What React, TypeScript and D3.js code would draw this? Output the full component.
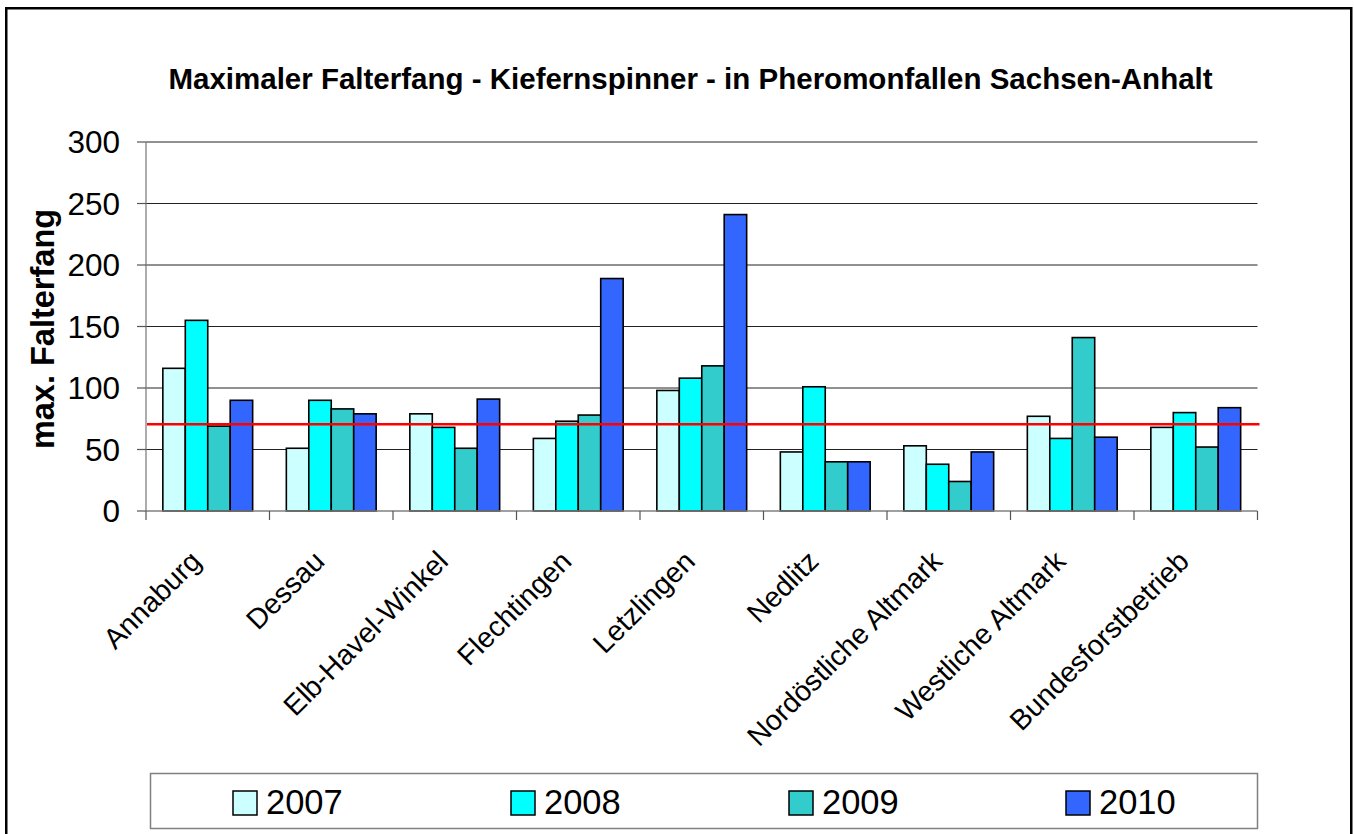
import React from "react";
import * as d3 from "d3";

const categories = [
  "Annaburg",
  "Dessau",
  "Elb-Havel-Winkel",
  "Flechtingen",
  "Letzlingen",
  "Nedlitz",
  "Nordöstliche Altmark",
  "Westliche Altmark",
  "Bundesforstbetrieb",
];
const seriesNames = ["2007", "2008", "2009", "2010"];
const values2007 = [116, 51, 79, 59, 98, 48, 53, 77, 68];
const values2008 = [155, 90, 68, 73, 108, 101, 38, 59, 80];
const values2009 = [69, 83, 51, 78, 118, 40, 24, 141, 52];
const values2010 = [90, 79, 91, 189, 241, 40, 48, 60, 84];
const seriesValues = [values2007, values2008, values2009, values2010];
const seriesColors = ["#CCFFFF", "#00FFFF", "#33CCCC", "#3366FF"];
const yTicks = [0, 50, 100, 150, 200, 250, 300];
const referenceValue = 70.5;
const title = "Maximaler Falterfang - Kiefernspinner - in Pheromonfallen Sachsen-Anhalt";
const yTitle = "max. Falterfang";

const FONT = "'Liberation Sans', Arial, Helvetica, sans-serif";

export default function App() {
  const W = 1354;
  const H = 834;
  const plotLeft = 146;
  const plotRight = 1257.5;
  const plotTop = 142;
  const plotBottom = 511;

  const x = d3
    .scaleBand<string>()
    .domain(categories)
    .range([plotLeft, plotRight])
    .paddingInner(1.5 / 5.5)
    .paddingOuter(0.75 / 5.5);
  const xs = d3
    .scaleBand<string>()
    .domain(seriesNames)
    .range([0, x.bandwidth()]);
  const y = d3.scaleLinear().domain([0, 300]).range([plotBottom, plotTop]);
  const step = (plotRight - plotLeft) / categories.length;
  const boundaries = d3.range(categories.length + 1).map((i) => plotLeft + i * step);

  const legendX = [233, 511, 789, 1066];

  return (
    <svg
      width={W}
      height={H}
      style={{ position: "absolute", left: 0, top: 0, background: "#fff" }}
      fontFamily={FONT}
    >
      <rect x={0} y={0} width={W} height={H} fill="#fff" />
      <rect x={6.25} y={8.25} width={1345} height={900} fill="none" stroke="#000" strokeWidth={2.5} />

      <text x={690.5} y={89} textAnchor="middle" fontWeight="bold" fontSize={29.5}>
        {title}
      </text>

      {/* gridlines */}
      {yTicks.filter((t) => t > 0).map((t) => (
        <line key={"g" + t} x1={plotLeft} x2={plotRight} y1={y(t)} y2={y(t)} stroke="#222" strokeWidth={1} />
      ))}

      {/* bars */}
      {categories.map((c, i) => (
        <g key={c}>
          {seriesNames.map((s, j) => (
            <rect
              key={s}
              x={(x(c) as number) + (xs(s) as number)}
              y={y(seriesValues[j][i])}
              width={xs.bandwidth()}
              height={plotBottom - y(seriesValues[j][i])}
              fill={seriesColors[j]}
              stroke="#000"
              strokeWidth={1.6}
            />
          ))}
        </g>
      ))}

      {/* axes */}
      <line x1={plotLeft} x2={plotLeft} y1={plotTop} y2={plotBottom} stroke="#808080" strokeWidth={1.3} />
      <line x1={plotLeft} x2={plotRight} y1={plotBottom} y2={plotBottom} stroke="#808080" strokeWidth={1.3} />
      {yTicks.map((t) => (
        <g key={"t" + t}>
          <line x1={plotLeft - 9} x2={plotLeft} y1={y(t)} y2={y(t)} stroke="#555" strokeWidth={1.2} />
          <text x={120} y={y(t) + 11} textAnchor="end" fontSize={31.5}>
            {t}
          </text>
        </g>
      ))}
      {boundaries.map((b, i) => (
        <line key={"b" + i} x1={b} x2={b} y1={plotBottom} y2={plotBottom + 9} stroke="#555" strokeWidth={1.2} />
      ))}

      {/* reference line */}
      <line
        x1={plotLeft + 1}
        x2={plotRight + 2}
        y1={y(referenceValue)}
        y2={y(referenceValue)}
        stroke="#FF0000"
        strokeWidth={2.6}
      />

      {/* category labels */}
      {categories.map((c) => {
        const cx = (x(c) as number) + x.bandwidth() / 2;
        return (
          <text
            key={"l" + c}
            transform={`translate(${cx - 5},${563}) rotate(-45)`}
            textAnchor="end"
            fontSize={28.5}
          >
            {c}
          </text>
        );
      })}

      {/* y title */}
      <text
        transform={`translate(54,${329}) rotate(-90)`}
        textAnchor="middle"
        fontWeight="bold"
        fontSize={32.5}
      >
        {yTitle}
      </text>

      {/* legend */}
      <rect x={150.5} y={773.5} width={1107} height={55} fill="#fff" stroke="#808080" strokeWidth={1.5} />
      {seriesNames.map((s, j) => (
        <g key={"lg" + s}>
          <rect x={legendX[j]} y={791} width={24} height={24} fill={seriesColors[j]} stroke="#000" strokeWidth={1.5} />
          <text x={legendX[j] + 33} y={814} fontSize={34.5}>
            {s}
          </text>
        </g>
      ))}
    </svg>
  );
}
